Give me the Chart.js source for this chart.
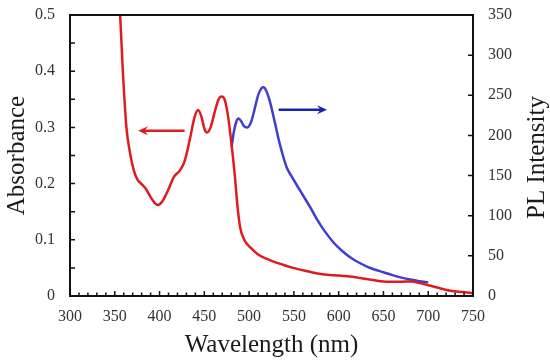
<!DOCTYPE html>
<html>
<head>
<meta charset="utf-8">
<script src="https://cdn.jsdelivr.net/npm/chart.js@4.4.1/dist/chart.umd.min.js"></script>
<style>
  html, body { margin: 0; padding: 0; background: #fff; }
  #wrap { width: 550px; height: 363px; }
</style>
</head>
<body>
<div id="wrap"><canvas id="myChart" width="550" height="363"></canvas></div>
<script>
// Absorbance spectrum (red, left axis)
const absWavelength = [353, 356, 359, 363, 367, 371, 375, 380, 385, 390, 395, 398, 403, 410, 416, 423, 428,
  434, 439, 443, 447, 450, 453, 457, 462, 466, 469, 472, 476, 480, 484, 487, 490, 494, 498, 503,
  510, 523, 537, 549, 565, 580, 595, 610, 624, 640, 655, 670, 680, 691, 700, 710, 725, 738, 750];
const absorbance = [0.62, 0.50, 0.40, 0.30, 0.255, 0.225, 0.208, 0.199, 0.19, 0.176, 0.165, 0.162, 0.168, 0.190, 0.212, 0.224, 0.240,
  0.280, 0.318, 0.331, 0.318, 0.298, 0.291, 0.300, 0.330, 0.350, 0.355, 0.352, 0.325, 0.275, 0.215, 0.160, 0.122, 0.102, 0.092, 0.084,
  0.074, 0.064, 0.056, 0.050, 0.044, 0.039, 0.037, 0.035, 0.032, 0.028, 0.0255, 0.0255, 0.026, 0.023, 0.019, 0.015, 0.0095, 0.007, 0.005];

// PL spectrum (blue, right axis)
const plWavelength = [480.5, 483, 486, 488, 491, 494, 498, 502, 506, 510, 514, 516, 519, 523, 529, 533, 537,
  542, 548, 556, 568, 575, 583, 594, 603, 612, 622, 631, 640, 650, 660, 668, 680, 690, 700];
const plIntensity = [186, 205, 218, 221, 218, 212, 210, 216, 232, 250, 259, 260, 256, 243, 215, 195, 178,
  160, 148, 133, 111, 97, 83, 67, 57, 49, 42, 37, 33, 29.5, 26, 23.5, 20.5, 18.5, 17];

const wavelengthTicks = [300, 350, 400, 450, 500, 550, 600, 650, 700, 750];
const absorbanceTicks = [0, 0.1, 0.2, 0.3, 0.4, 0.5];
const plTicks = [0, 50, 100, 150, 200, 250, 300, 350];

// arrows: [from wavelength, to wavelength, level on own axis]
const absArrow = [428, 376, 0.294];
const plArrow = [533, 587, 232];

const redColor = 'rgb(222, 28, 32)';
const blueColor = 'rgb(64, 62, 206)';
const arrowBlue = 'rgb(22, 34, 176)';
const serif = '"Liberation Serif", "Times New Roman", serif';

function setTicks(values) {
  return scale => { scale.ticks = values.map(v => ({ value: v })); };
}

// fixed axis width, and no extra label padding above/below the plot
function fixWidth(w) {
  return scale => {
    scale.width = w;
    scale.paddingTop = 0;
    scale.paddingBottom = 0;
  };
}

function drawArrow(ctx, x0, x1, y, color) {
  const dir = x1 > x0 ? 1 : -1;
  const len = 10, half = 4.5;
  ctx.strokeStyle = color;
  ctx.fillStyle = color;
  ctx.lineWidth = 2.5;
  ctx.beginPath();
  ctx.moveTo(x0, y);
  ctx.lineTo(x1 - dir * len * 0.6, y);
  ctx.stroke();
  ctx.beginPath();
  ctx.moveTo(x1, y);
  ctx.lineTo(x1 - dir * len, y - half);
  ctx.lineTo(x1 - dir * len * 0.65, y);
  ctx.lineTo(x1 - dir * len, y + half);
  ctx.closePath();
  ctx.fill();
}

const framePlugin = {
  id: 'frame',
  afterDatasetsDraw(chart) {
    const { ctx, chartArea: a, scales } = chart;
    ctx.save();

    drawArrow(ctx, scales.x.getPixelForValue(absArrow[0]), scales.x.getPixelForValue(absArrow[1]),
      scales.y.getPixelForValue(absArrow[2]), redColor);
    drawArrow(ctx, scales.x.getPixelForValue(plArrow[0]), scales.x.getPixelForValue(plArrow[1]),
      scales.y2.getPixelForValue(plArrow[2]), arrowBlue);

    ctx.strokeStyle = '#111';
    ctx.lineWidth = 2;
    ctx.strokeRect(a.left, a.top, a.right - a.left, a.bottom - a.top);

    ctx.lineWidth = 1.5;
    ctx.beginPath();
    // bottom ticks every 10 nm, longer at 50s
    for (let v = 310; v < 750; v += 10) {
      const px = scales.x.getPixelForValue(v);
      const l = v % 50 === 0 ? 5 : 3.5;
      ctx.moveTo(px, a.bottom);
      ctx.lineTo(px, a.bottom - l);
    }
    // left ticks every 0.05
    for (let i = 1; i < 10; i++) {
      const py = scales.y.getPixelForValue(i * 0.05);
      ctx.moveTo(a.left, py);
      ctx.lineTo(a.left + 5, py);
    }
    // right ticks every 50
    for (let v = 50; v < 350; v += 50) {
      const py = scales.y2.getPixelForValue(v);
      ctx.moveTo(a.right, py);
      ctx.lineTo(a.right - 5, py);
    }
    ctx.stroke();

    // right axis title, reading bottom to top
    ctx.fillStyle = '#1a1a1a';
    ctx.font = '25px ' + serif;
    ctx.textAlign = 'center';
    ctx.textBaseline = 'middle';
    ctx.translate(chart.width - 13, (a.top + a.bottom) / 2 + 2);
    ctx.rotate(-Math.PI / 2);
    ctx.fillText('PL Intensity', 0, 0);
    ctx.restore();
  }
};

const ctx = document.getElementById('myChart').getContext('2d');
new Chart(ctx, {
  type: 'line',
  data: {
    datasets: [{
      label: 'Absorbance',
      data: absWavelength.map((w, i) => ({ x: w, y: absorbance[i] })),
      borderColor: redColor,
      borderWidth: 2.5,
      pointRadius: 0,
      cubicInterpolationMode: 'monotone',
      yAxisID: 'y'
    }, {
      label: 'PL Intensity',
      data: plWavelength.map((w, i) => ({ x: w, y: plIntensity[i] })),
      borderColor: blueColor,
      borderWidth: 2.5,
      pointRadius: 0,
      cubicInterpolationMode: 'monotone',
      yAxisID: 'y2'
    }]
  },
  options: {
    responsive: false,
    animation: false,
    devicePixelRatio: 1,
    layout: { padding: { top: 15, left: 0, right: 0, bottom: 0 } },
    plugins: {
      legend: { display: false },
      tooltip: { enabled: false }
    },
    scales: {
      x: {
        type: 'linear',
        min: 300,
        max: 750,
        afterBuildTicks: setTicks(wavelengthTicks),
        afterFit: scale => { scale.height = 67; },
        grid: { display: false, drawTicks: false },
        border: { display: false },
        ticks: { padding: 11, color: '#333', font: { family: serif, size: 16 } },
        title: {
          display: true,
          text: 'Wavelength (nm)',
          color: '#1a1a1a',
          font: { family: serif, size: 25 },
          padding: { top: 0, bottom: 3 }
        }
      },
      y: {
        position: 'left',
        min: 0,
        max: 0.5,
        afterBuildTicks: setTicks(absorbanceTicks),
        afterFit: fixWidth(70),
        grid: { display: false, drawTicks: false },
        border: { display: false },
        ticks: { padding: 15, color: '#333', font: { family: serif, size: 16 } },
        title: {
          display: true,
          text: 'Absorbance',
          color: '#1a1a1a',
          font: { family: serif, size: 25 },
          padding: { top: 2, bottom: 0 }
        }
      },
      y2: {
        position: 'right',
        min: 0,
        max: 350,
        afterBuildTicks: setTicks(plTicks),
        afterFit: fixWidth(77),
        grid: { display: false, drawTicks: false },
        border: { display: false },
        ticks: { padding: 15, color: '#333', font: { family: serif, size: 16 } }
      }
    }
  },
  plugins: [framePlugin]
});
</script>
</body>
</html>
